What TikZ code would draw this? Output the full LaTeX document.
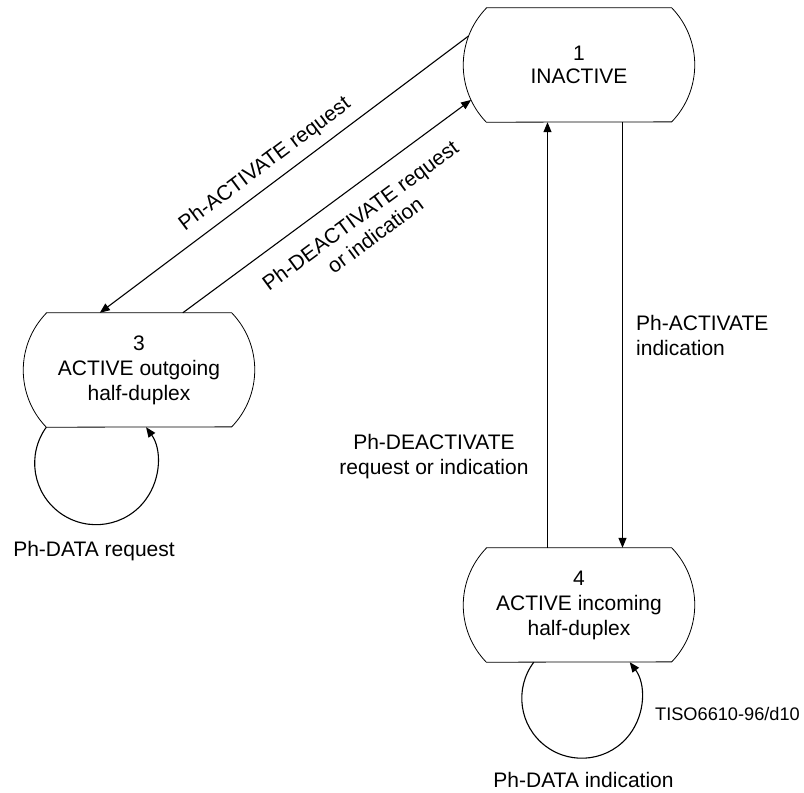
\documentclass[tikz,border=0pt]{standalone}
\usepackage{fontspec}
\setmainfont{Liberation Sans}
\usetikzlibrary{arrows.meta,calc}
\begin{document}
\begin{tikzpicture}[x=1pt,y=1pt,
  statebox/.style={minimum width=185pt, minimum height=114pt, inner sep=0pt, align=center, font=\fontsize{21}{25}\selectfont},
  outline/.style={line width=0.8pt, draw=black},
  conn/.style={line width=1.1pt, -{Triangle[length=10pt,width=8pt]}},
  lab/.style={font=\fontsize{21}{25}\selectfont, inner sep=0pt, align=center},
  smalllab/.style={font=\fontsize{18.2}{22}\selectfont, inner sep=0pt}]
\useasboundingbox (0,0) rectangle (804,-793);
% states
\node[statebox, font=\fontsize{21}{23}\selectfont] (s1) at (579,-65) {1\\INACTIVE};
\node[statebox] (s3) at (139,-370) {3\\ACTIVE outgoing\\half-duplex};
\node[statebox] (s4) at (579,-605) {4\\ACTIVE incoming\\half-duplex};
\foreach \n in {s1,s3,s4}
  \draw[outline] (\n.north west) -- (\n.north east) arc[start angle=44, end angle=-44, radius=82.1]
    -- (\n.south west) arc[start angle=224, end angle=136, radius=82.1] -- cycle;
% connector end points
\coordinate (a1) at ($(s1.west)+(59.06,0)+(159.3:82.1)$);
\coordinate (a3) at ($(s3.north west)+(53.5,0)$);
\coordinate (d3) at ($(s3.north west)+(136.5,0)$);
\coordinate (d1) at ($(s1.west)+(59.06,0)+(205.2:82.1)$);
\coordinate (u4) at ($(s4.north)+(-31.5,0)$);
\coordinate (u1) at ($(s1.south)+(-31.5,0)$);
\coordinate (v1) at ($(s1.south)+(43.5,0)$);
\coordinate (v4) at ($(s4.north)+(43.5,0)$);
\coordinate (l4) at ($(s4.south west)+(47.5,0)$);
% connectors
\draw[conn] (a1) -- node[lab, sloped, pos=0.52, above=9pt] {Ph-ACTIVATE request} (a3);
\draw[conn] (d3) -- node[lab, sloped, pos=0.56, below=18.5pt] {Ph-DEACTIVATE request\\or indication} (d1);
\draw[conn] (u4) -- (u1);
\draw[conn] (v1) -- (v4);
\draw[conn] (s3.south west) arc[start angle=144.2, end angle=395.8, radius=61.5];
\draw[conn] (l4) arc[start angle=143.1, end angle=396.9, radius=60];
% labels
\node[lab, align=left, anchor=north west] (lact) at (636,-315) {Ph-ACTIVATE\\indication};
\node[lab] (ldeact) at (434,-457) {Ph-DEACTIVATE\\request or indication};
\node[lab] (ld3) at (94,-550.6) {Ph-DATA request};
\node[lab] (ld4) at (583.5,-779.5) {Ph-DATA indication};
\node[smalllab] (tiso) at (727.5,-714) {TISO6610-96/d10};
\end{tikzpicture}
\end{document}
